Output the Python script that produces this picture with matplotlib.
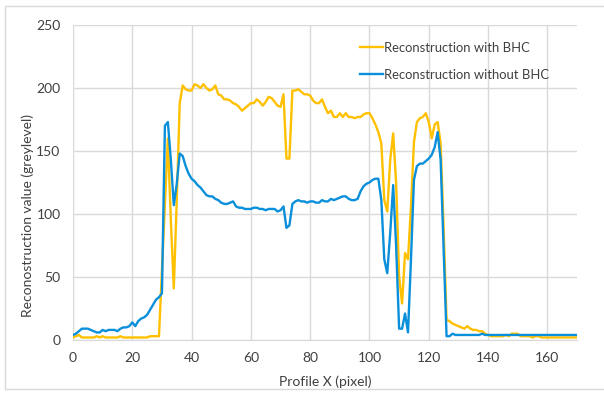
import matplotlib
matplotlib.use("Agg")
import matplotlib.pyplot as plt
from matplotlib.patches import Rectangle

# profile position (pixel)
profile_x = list(range(171))

with_bhc = [
    2, 3, 4, 2, 2, 2, 2, 2, 3, 2, 3, 2, 2, 2, 2, 2, 3, 2, 2, 2,
    2, 2, 2, 2, 2, 2, 3, 3, 3, 3, 55, 108, 160, 95, 41, 111, 188, 202, 199, 198,
    198, 203, 202, 200, 203, 200, 198, 199, 202, 195, 194, 191, 191, 190, 188, 187, 185, 182, 184, 186,
    188, 188, 191, 189, 186, 189, 193, 192, 189, 186, 185, 195, 144, 144, 198, 198, 199, 197, 195, 195,
    194, 190, 188, 188, 191, 185, 180, 182, 177, 177, 180, 177, 180, 177, 177, 176, 177, 177, 179, 180,
    180, 176, 171, 165, 156, 111, 102, 143, 164, 124, 50, 29, 69, 64, 106, 157, 173, 176, 177, 180,
    173, 160, 171, 173, 156, 90, 16, 15, 13, 12, 11, 10, 9, 11, 9, 8, 8, 7, 7, 5,
    4, 3, 3, 3, 3, 3, 4, 3, 5, 5, 5, 3, 3, 3, 3, 2, 3, 3, 2, 2,
    2, 2, 2, 2, 2, 2, 2, 2, 2, 2, 2,
]

without_bhc = [
    4, 5, 7, 9, 9, 9, 8, 7, 6, 6, 8, 7, 8, 8, 8, 7, 9, 10, 10, 11,
    14, 11, 15, 17, 18, 20, 24, 28, 32, 34, 37, 170, 173, 143, 107, 124, 148, 146, 138, 132,
    128, 126, 123, 121, 118, 115, 114, 114, 112, 111, 109, 108, 108, 109, 110, 106, 105, 105, 104, 104,
    104, 105, 105, 104, 104, 103, 104, 104, 104, 102, 103, 106, 89, 91, 108, 110, 111, 110, 110, 109,
    110, 110, 109, 109, 111, 110, 110, 112, 111, 112, 113, 114, 114, 112, 111, 111, 112, 118, 122, 124,
    125, 127, 128, 128, 111, 64, 53, 85, 123, 74, 9, 9, 21, 6, 64, 127, 138, 140, 140, 142,
    144, 147, 153, 165, 143, 74, 3, 3, 5, 4, 4, 4, 4, 4, 4, 4, 4, 4, 5, 4,
    4, 4, 4, 4, 4, 4, 4, 4, 4, 4, 4, 4, 4, 4, 4, 4, 4, 4, 4, 4,
    4, 4, 4, 4, 4, 4, 4, 4, 4, 4, 4,
]

x_ticks = [0, 20, 40, 60, 80, 100, 120, 140, 160]
y_ticks = [0, 50, 100, 150, 200, 250]

plt.rcParams['font.family'] = ['Lato', 'DejaVu Sans']
grid_col = "#D9D9D9"
text_col = "#404040"

fig = plt.figure(figsize=(6.04, 3.93), dpi=100)
ax = fig.add_axes([73 / 604, 53 / 393, 504 / 604, 315 / 393])

# chart border (cut off on the right)
fig.patches.append(Rectangle((5 / 604, 4 / 393), 1.2, 383 / 393, transform=fig.transFigure,
                             fill=False, edgecolor=grid_col, linewidth=1.0))

ax.plot(profile_x, with_bhc, color="#FFC000", linewidth=1.7, label="Reconstruction with BHC")
ax.plot(profile_x, without_bhc, color="#0A8FDB", linewidth=1.7, label="Reconstruction without BHC")

ax.set_xlim(0, 170)
ax.set_ylim(0, 250)
ax.set_xticks(x_ticks)
ax.set_yticks(y_ticks)
ax.grid(True, color=grid_col, linewidth=1.0)
ax.set_axisbelow(True)
for side in ["top", "right", "left"]:
    ax.spines[side].set_visible(False)
ax.spines["bottom"].set_color(grid_col)
ax.tick_params(length=0, labelsize=10, colors=text_col, pad=9)
ax.tick_params(axis="y", pad=9)

ax.set_xlabel("Profile X (pixel)", fontsize=10, color=text_col)
ax.set_ylabel("Reconostruction value (greylevel)", fontsize=10, color=text_col)
ax.xaxis.set_label_coords(0.5, -0.112)
ax.yaxis.set_label_coords(-0.077, 0.394)

ax.legend(loc="upper left", bbox_to_anchor=(0.557, 0.968), frameon=False, fontsize=9.4,
          handlelength=1.75, handletextpad=0.1, labelspacing=1.15, borderpad=0,
          labelcolor=text_col)

fig.savefig("out.png", dpi=100)
